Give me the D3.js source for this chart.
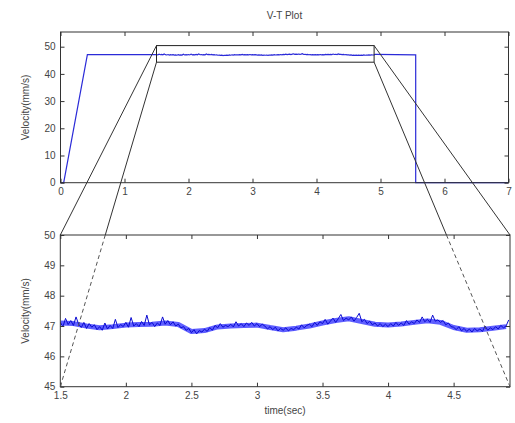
<!DOCTYPE html>
<html><head><meta charset="utf-8">
<script src="https://cdn.jsdelivr.net/npm/d3@7"></script>
<style>body{margin:0;background:#fff}svg{display:block}text{font-family:"Liberation Sans",Arial,sans-serif}</style>
</head><body><svg id="c" width="515" height="423"></svg>
<script>
// ---- data ----
const title = "V-T Plot";
const yLabel = "Velocity(mm/s)";
const xLabel = "time(sec)";
const topXTicks = [0,1,2,3,4,5,6,7];
const topYTicks = [0,10,20,30,40,50];
const botXTicks = [1.5,2,2.5,3,3.5,4,4.5];
const botYTicks = [45,46,47,48,49,50];
// ramp up / ramp down parts of the profile
const startT = [0, 0.05, 0.42];
const startV = [0, 0, 47.1];
const endT = [5.55, 5.55, 7];
const endV = [47.0, 0, 0];
// detailed steady-speed samples (t from 1.50 step 0.02)
const detailT0 = 1.5, detailStep = 0.02;
const detailV = [
 47.12,46.98,47.25,47.05,47.18, 47.02,47.30,47.06,46.95,47.12,
 46.92,47.08,46.96,47.04,46.88, 46.98,46.86,47.10,46.90,47.02,
 46.92,47.22,46.95,47.05,46.98, 47.12,46.96,47.28,47.00,47.08,
 46.98,47.15,47.02,47.36,47.04, 47.12,46.98,47.10,47.02,47.30,
 47.06,47.18,47.04,47.14,47.00, 47.06,46.94,46.98,46.86,46.92,
 46.78,46.88,46.74,46.85,46.80, 46.90,46.82,46.95,46.86,47.02,
 46.94,47.08,46.96,47.02,46.98, 47.06,46.97,47.14,47.00,47.08,
 46.98,47.10,47.02,47.12,47.00, 47.08,46.98,47.06,47.00,46.90,
 46.98,46.88,46.96,46.84,46.92, 46.86,46.94,46.84,46.92,46.88,
 46.96,46.90,47.04,46.94,47.02, 47.06,46.98,47.12,47.02,47.14,
 47.08,47.22,47.06,47.16,47.26, 47.12,47.24,47.38,47.18,47.26,
 47.20,47.30,47.16,47.28,47.42, 47.14,47.22,47.08,47.16,47.04,
 47.10,47.00,47.08,46.98,47.06, 46.98,47.08,47.00,47.12,47.02,
 47.10,47.02,47.18,47.06,47.14, 47.08,47.20,47.12,47.30,47.14,
 47.22,47.12,47.36,47.16,47.20, 47.12,47.18,47.04,47.10,46.98,
 46.96,46.88,46.98,46.84,46.92, 46.82,46.90,46.80,46.92,46.84,
 46.90,46.82,47.00,46.86,46.94, 46.88,46.98,46.90,47.02,46.94,
 47.00,47.20
];
// slow trend of the steady speed (t from 1.5 step 0.1)
const trendT0 = 1.5, trendStep = 0.1;
const trendV = [47.10,47.08,47.00,46.94,46.98,47.03,47.05,47.06,47.10,47.05,
 46.82,46.85,46.97,47.00,47.02,47.03,46.95,46.88,46.93,47.00,
 47.10,47.18,47.24,47.15,47.06,47.03,47.07,47.12,47.17,47.12,
 46.95,46.86,46.88,46.93,46.98];
const zoomBoxX = [1.5, 4.9];
const zoomBoxY = [44.3, 50.4];
const topXDomain = [0,7], topYDomain = [0,55.4];
const botXDomain = [1.5,4.93], botYDomain = [45,50];

// ---- drawing ----
const svg = d3.select("#c");
const axisColor = "#333", textColor = "#444", fs = 10;
const detail = detailV.map((v,i)=>({t: detailT0 + i*detailStep, v}));
const trend = trendV.map((v,i)=>({t: trendT0 + i*trendStep, v}));

const xT = d3.scaleLinear().domain(topXDomain).range([60.5,508.5]);
const yT = d3.scaleLinear().domain(topYDomain).range([182.7,32]);
const xB = d3.scaleLinear().domain(botXDomain).range([60.3,510]);
const yB = d3.scaleLinear().domain(botYDomain).range([386.7,235]);

function axesBox(x, y, xt, yt) {
  const g = svg.append("g");
  const [x0,x1] = x.range(), [y0,y1] = y.range();
  const fmt = d => String(d);
  const ax = (a, tr, ticks, lab) => {
    const gg = g.append("g").attr("transform", tr)
      .call(a.tickValues(ticks).tickSizeInner(-4).tickSizeOuter(0).tickPadding(5).tickFormat(lab ? fmt : ""));
    gg.select(".domain").remove();
    gg.selectAll("line").attr("stroke", axisColor);
    gg.selectAll("text").attr("fill", textColor).style("font-size", fs+"px").style("font-family","Liberation Sans, Arial, sans-serif");
  };
  ax(d3.axisBottom(x), `translate(0,${y0})`, xt, true);
  ax(d3.axisTop(x), `translate(0,${y1})`, xt, false);
  ax(d3.axisLeft(y), `translate(${x0},0)`, yt, true);
  ax(d3.axisRight(y), `translate(${x1},0)`, yt, false);
  g.append("rect").attr("x",x0).attr("y",y1).attr("width",x1-x0).attr("height",y0-y1)
    .attr("fill","none").attr("stroke",axisColor).attr("stroke-width",1);
  return g;
}

// top plot line
const topPts = startT.map((t,i)=>({t, v:startV[i]}))
  .concat(detail)
  .concat(endT.map((t,i)=>({t, v:endV[i]})));
const lineT = d3.line().x(d=>xT(d.t)).y(d=>yT(d.v));
svg.append("path").datum(topPts).attr("d", lineT).attr("fill","none")
  .attr("stroke","#2b2bd8").attr("stroke-width",1.2);

axesBox(xT, yT, topXTicks, topYTicks);

// zoom box on top plot
svg.append("rect")
  .attr("x", xT(zoomBoxX[0])).attr("y", yT(zoomBoxY[1]))
  .attr("width", xT(zoomBoxX[1]) - xT(zoomBoxX[0]))
  .attr("height", yT(zoomBoxY[0]) - yT(zoomBoxY[1]))
  .attr("fill","none").attr("stroke","#222").attr("stroke-width",1);

// bottom plot
svg.append("clipPath").attr("id","cb").append("rect")
  .attr("x", xB.range()[0]).attr("y", yB.range()[1])
  .attr("width", xB.range()[1]-xB.range()[0]).attr("height", yB.range()[0]-yB.range()[1]);
const lineB = d3.line().x(d=>xB(d.t)).y(d=>yB(d.v));
const gb = svg.append("g").attr("clip-path","url(#cb)");
gb.append("path").datum(trend).attr("d", lineB)
  .attr("fill","none").attr("stroke","#2a2aff").attr("stroke-opacity",0.75).attr("stroke-width",5).attr("stroke-linejoin","round");
gb.append("path").datum(detail).attr("d", lineB).attr("fill","none")
  .attr("stroke","#0a0ad0").attr("stroke-width",1);

axesBox(xB, yB, botXTicks, botYTicks);

// connector lines
const bx0 = xB.range()[0], bx1 = xB.range()[1], byTop = yB.range()[1], byBot = yB.range()[0];
const rx0 = xT(zoomBoxX[0]), rx1 = xT(zoomBoxX[1]), ryTop = yT(zoomBoxY[1]), ryBot = yT(zoomBoxY[0]);
function conn(xa, ya, xb, yb) {
  svg.append("line").attr("x1",xa).attr("y1",ya).attr("x2",xb).attr("y2",yb)
    .attr("stroke","#333").attr("stroke-width",1);
}
function connSplit(xa, ya, xb, yb) {
  const f = (byTop - ya) / (yb - ya);
  const xm = xa + f*(xb - xa);
  conn(xa, ya, xm, byTop);
  svg.append("line").attr("x1",xm).attr("y1",byTop).attr("x2",xb).attr("y2",yb)
    .attr("stroke","#555").attr("stroke-width",1).attr("stroke-dasharray","4,3");
}
conn(rx0, ryTop, bx0, byTop);
conn(rx1, ryTop, bx1, byTop);
connSplit(rx0, ryBot, bx0, byBot);
connSplit(rx1, ryBot, bx1, byBot);

// texts
svg.append("text").attr("x", 284.5).attr("y", 19).attr("text-anchor","middle")
  .attr("fill",textColor).style("font-size","10px").text(title);
[107.5, 311].forEach(cy=>{
  svg.append("text").attr("transform",`translate(29,${cy}) rotate(-90)`).attr("text-anchor","middle")
    .attr("fill",textColor).style("font-size","10px").text(yLabel);
});
svg.append("text").attr("x", 285).attr("y", 414).attr("text-anchor","middle")
  .attr("fill",textColor).style("font-size","10px").text(xLabel);
</script></body></html>
